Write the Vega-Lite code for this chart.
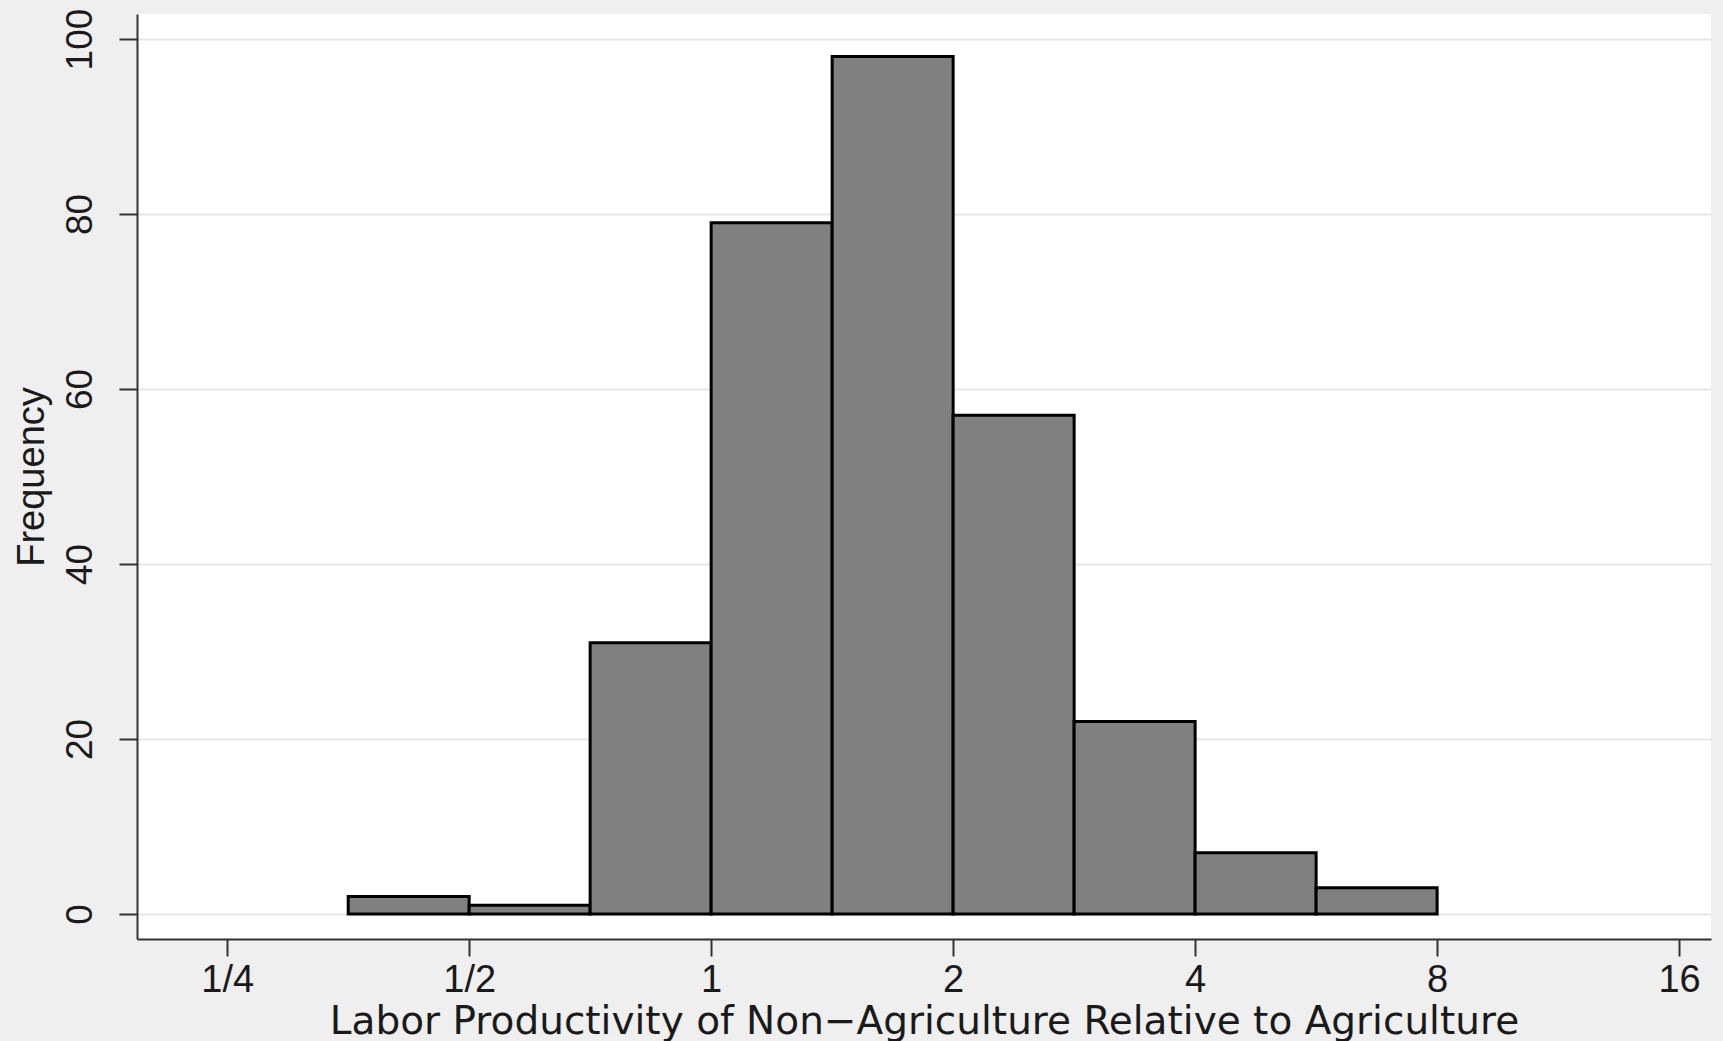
{
  "$schema": "https://vega.github.io/schema/vega-lite/v6.json",
  "width": 1574,
  "height": 925,
  "autosize": "none",
  "padding": {"left": 137, "top": 14, "right": 12, "bottom": 102},
  "background": "#efefef",
  "config": {
    "view": {"fill": "white", "stroke": null},
    "font": "Liberation Sans"
  },
  "data": {
    "values": [
      {"lo": 0.3536, "hi": 0.5, "count": 2},
      {"lo": 0.5, "hi": 0.7071, "count": 1},
      {"lo": 0.7071, "hi": 1.0, "count": 31},
      {"lo": 1.0, "hi": 1.4142, "count": 79},
      {"lo": 1.4142, "hi": 2.0, "count": 98},
      {"lo": 2.0, "hi": 2.8284, "count": 57},
      {"lo": 2.8284, "hi": 4.0, "count": 22},
      {"lo": 4.0, "hi": 5.6569, "count": 7},
      {"lo": 5.6569, "hi": 8.0, "count": 3}
    ]
  },
  "mark": {"type": "rect", "fill": "#808080", "stroke": "black", "strokeWidth": 3},
  "encoding": {
    "x": {
      "field": "lo", "type": "quantitative",
      "scale": {"type": "log", "base": 2, "domain": [0.1931, 17.53], "nice": false},
      "axis": {
        "title": "Labor Productivity of Non\u2212Agriculture Relative to Agriculture",
        "values": [0.25, 0.5, 1, 2, 4, 8, 16],
        "labelExpr": "datum.value == 0.25 ? '1/4' : datum.value == 0.5 ? '1/2' : format(datum.value, 'd')",
        "grid": false,
        "domainColor": "#333333", "domainWidth": 2,
        "tickColor": "#333333", "tickWidth": 2, "tickSize": 17,
        "labelFontSize": 38, "labelColor": "#1a1a1a", "labelPadding": 5,
        "labelFlush": false,
        "titleFont": "DejaVu Sans",
        "titleFontSize": 39, "titleFontWeight": "normal", "titleColor": "#1a1a1a", "titlePadding": 3
      }
    },
    "x2": {"field": "hi"},
    "y": {
      "field": "count", "type": "quantitative",
      "scale": {"domain": [-2.86, 102.86], "nice": false, "zero": false},
      "axis": {
        "title": "Frequency",
        "values": [0, 20, 40, 60, 80, 100],
        "grid": true, "gridColor": "#e6e6e6", "gridWidth": 2,
        "domainColor": "#333333", "domainWidth": 2,
        "tickColor": "#333333", "tickWidth": 2, "tickSize": 18,
        "labelFontSize": 37, "labelColor": "#1a1a1a", "labelAngle": 270,
        "labelAlign": "center", "labelBaseline": "bottom", "labelPadding": 20,
        "labelFlush": false,
        "titleFontSize": 38, "titleFontWeight": "normal", "titleColor": "#1a1a1a", "titlePadding": 10
      }
    },
    "y2": {"datum": 0}
  }
}
